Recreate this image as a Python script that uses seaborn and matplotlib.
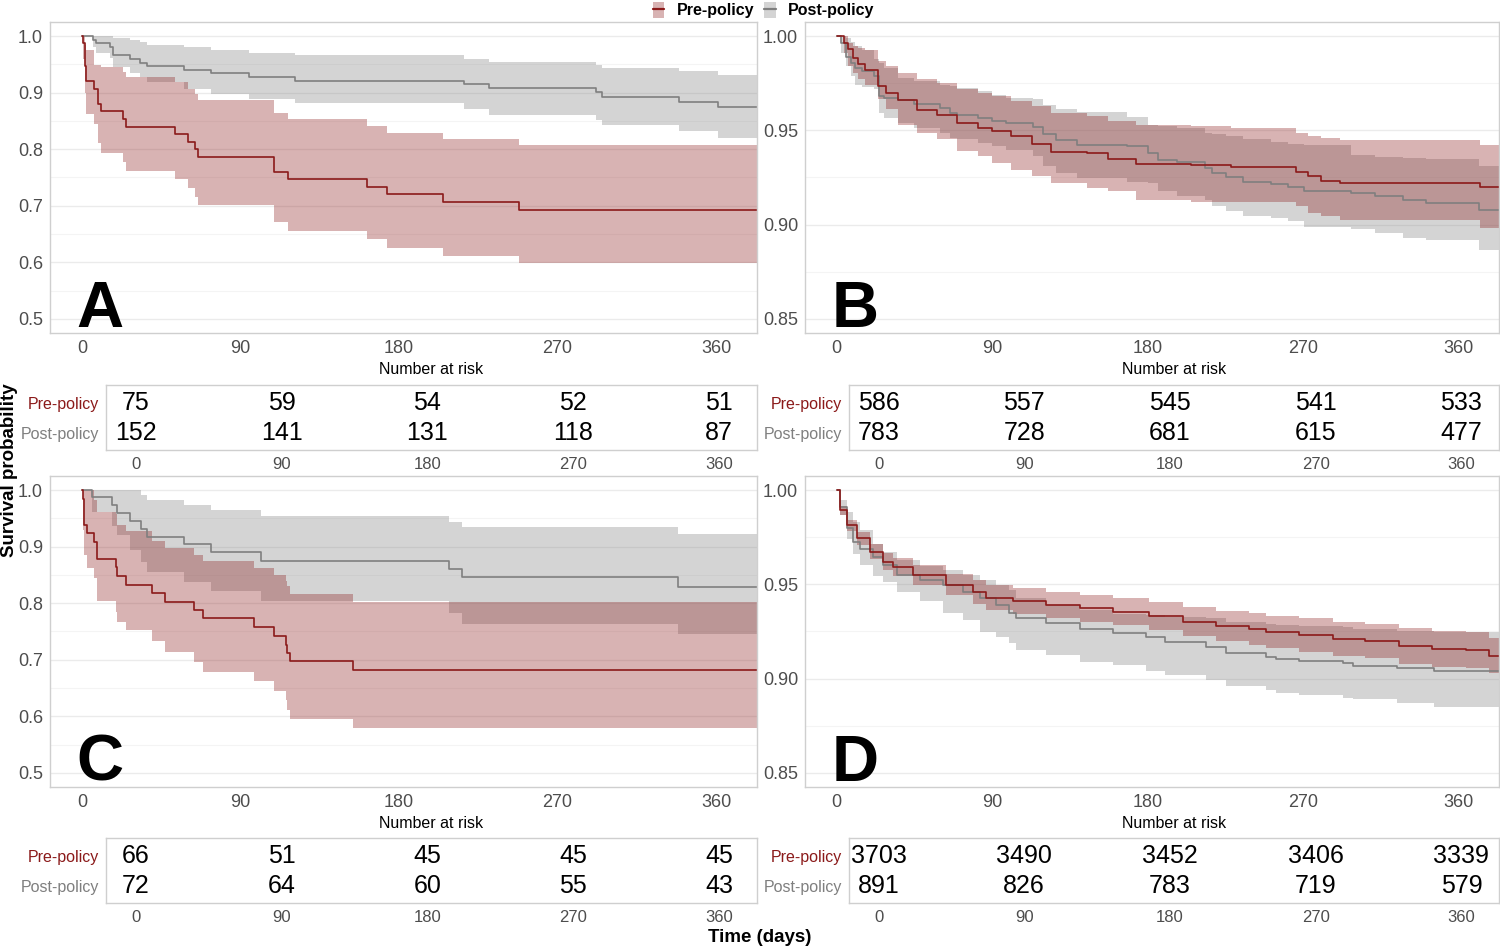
import numpy as np
import pandas as pd
import seaborn as sns
import matplotlib.pyplot as plt
from matplotlib.patches import Patch
from matplotlib.lines import Line2D
from matplotlib.legend_handler import HandlerTuple

sns.set_style("white")
plt.rcParams['font.family'] = ['Liberation Sans', 'DejaVu Sans']

# ------------------------------------------------------
# Kaplan-Meier estimates (days, survival, 95% CI)
# ------------------------------------------------------
# Panel A
A_pre_t  = [0, 0.5, 1.5, 2, 7, 9, 10.5, 23, 25, 53, 60, 64, 66, 109, 117, 162, 173, 205, 248]
A_pre_s  = [1.0, 0.987, 0.947, 0.92, 0.907, 0.88, 0.867, 0.853, 0.84, 0.827, 0.813, 0.80, 0.787, 0.76, 0.747, 0.733, 0.72, 0.707, 0.693]
A_pre_lo = [1.0, 0.96, 0.899, 0.862, 0.844, 0.811, 0.794, 0.778, 0.762, 0.747, 0.731, 0.716, 0.701, 0.672, 0.656, 0.642, 0.626, 0.612, 0.598]
A_pre_hi = [1.0, 1.0, 0.985, 0.975, 0.949, 0.949, 0.945, 0.937, 0.928, 0.919, 0.906, 0.898, 0.887, 0.864, 0.853, 0.841, 0.829, 0.818, 0.807]

A_post_t  = [0, 6, 7.7, 16, 17.4, 27, 33, 36.7, 58, 73, 95, 121, 217, 231, 292, 295, 339, 361]
A_post_s  = [1.0, 0.993, 0.987, 0.980, 0.967, 0.960, 0.953, 0.947, 0.940, 0.934, 0.928, 0.921, 0.915, 0.908, 0.901, 0.893, 0.884, 0.874]
A_post_lo = [1.0, 0.980, 0.971, 0.962, 0.945, 0.935, 0.927, 0.919, 0.907, 0.897, 0.888, 0.881, 0.871, 0.861, 0.852, 0.842, 0.832, 0.820]
A_post_hi = [1.0, 1.0, 1.0, 1.0, 0.997, 0.993, 0.989, 0.985, 0.981, 0.975, 0.971, 0.966, 0.960, 0.955, 0.949, 0.944, 0.938, 0.931]

# Panel B
B_pre_t  = [0, 4.1, 6.8, 9.6, 12.3, 16.4, 24, 28.7, 35.5, 46.4, 57.9, 69.6, 82, 90, 101, 113, 124, 145, 157, 173, 205, 228, 266, 273, 280, 291, 372]
B_pre_s  = [1.0, 0.9965, 0.993, 0.9885, 0.985, 0.982, 0.9735, 0.970, 0.966, 0.961, 0.958, 0.954, 0.951, 0.9495, 0.947, 0.943, 0.9386, 0.938, 0.935, 0.9322, 0.9317, 0.9305, 0.928, 0.9257, 0.923, 0.922, 0.920]
B_pre_lo = [1.0, 0.9912, 0.9841, 0.9805, 0.977, 0.9743, 0.9664, 0.9611, 0.9531, 0.9487, 0.9452, 0.939, 0.9363, 0.9328, 0.9292, 0.9257, 0.9222, 0.9195, 0.9177, 0.9133, 0.9119, 0.9119, 0.9098, 0.9062, 0.9045, 0.9027, 0.8983]
B_pre_hi = [1.0, 1.0, 0.9965, 0.9947, 0.9938, 0.9926, 0.9867, 0.9841, 0.9802, 0.977, 0.9752, 0.9722, 0.9699, 0.9682, 0.9655, 0.9628, 0.9593, 0.9575, 0.9549, 0.9526, 0.9522, 0.9514, 0.9487, 0.9469, 0.946, 0.9448, 0.9422]

B_post_t  = [0, 2.7, 5.5, 8.2, 10.9, 15, 21.9, 24.6, 27.3, 35.5, 45, 60, 65.6, 69.7, 82, 90, 98.3, 113.4, 119.6, 127, 139.3, 168, 180.3, 185.7, 196.7, 213, 217, 225.3, 235, 251.3, 260.9, 270.4, 297.7, 311.4, 327.8, 340.9, 371.5]
B_post_s  = [1.0, 0.9965, 0.989, 0.986, 0.983, 0.9814, 0.979, 0.968, 0.967, 0.966, 0.964, 0.962, 0.959, 0.958, 0.9567, 0.955, 0.9537, 0.952, 0.948, 0.945, 0.942, 0.9416, 0.938, 0.9345, 0.933, 0.930, 0.9275, 0.925, 0.9227, 0.9216, 0.920, 0.9177, 0.917, 0.915, 0.913, 0.9115, 0.9075]
B_post_lo = [1.0, 0.9912, 0.9841, 0.9788, 0.9743, 0.9731, 0.9717, 0.9593, 0.9567, 0.954, 0.9513, 0.9487, 0.946, 0.9452, 0.9434, 0.9416, 0.9398, 0.9363, 0.931, 0.9275, 0.9248, 0.9228, 0.9222, 0.9178, 0.9151, 0.9133, 0.9098, 0.9071, 0.9045, 0.9036, 0.9018, 0.8986, 0.8977, 0.8956, 0.893, 0.8917, 0.8868]
B_post_hi = [1.0, 1.0, 0.9991, 0.9968, 0.9947, 0.9926, 0.988, 0.9855, 0.9832, 0.9779, 0.9763, 0.9743, 0.9735, 0.9726, 0.9708, 0.969, 0.9673, 0.9664, 0.9637, 0.9614, 0.9597, 0.9572, 0.9531, 0.9522, 0.9514, 0.9487, 0.9482, 0.9469, 0.9452, 0.9437, 0.9429, 0.9422, 0.9372, 0.936, 0.9354, 0.9349, 0.931]

# Panel C
C_pre_t  = [0, 0.4, 1.1, 2.9, 6.7, 8.6, 19.0, 19.7, 25, 39.8, 46.8, 63.4, 68.8, 97.5, 108.9, 115.5, 116.4, 117.8, 153.7]
C_pre_s  = [1.0, 0.985, 0.939, 0.924, 0.909, 0.879, 0.864, 0.848, 0.833, 0.818, 0.803, 0.788, 0.773, 0.758, 0.742, 0.727, 0.712, 0.697, 0.682]
C_pre_lo = [1.0, 0.930, 0.885, 0.863, 0.844, 0.804, 0.785, 0.767, 0.752, 0.733, 0.713, 0.696, 0.678, 0.662, 0.645, 0.629, 0.612, 0.595, 0.579]
C_pre_hi = [1.0, 1.0, 1.0, 1.0, 0.982, 0.961, 0.958, 0.938, 0.927, 0.910, 0.897, 0.886, 0.875, 0.862, 0.850, 0.840, 0.830, 0.817, 0.803]

C_post_t  = [0, 5.5, 16.9, 19.7, 26.9, 33.2, 37, 57.8, 72.9, 101.7, 208.6, 215.6, 338.3]
C_post_s  = [1.0, 0.987, 0.973, 0.960, 0.946, 0.932, 0.918, 0.904, 0.891, 0.875, 0.860, 0.846, 0.829]
C_post_lo = [1.0, 0.961, 0.936, 0.921, 0.894, 0.873, 0.856, 0.838, 0.821, 0.804, 0.783, 0.764, 0.746]
C_post_hi = [1.0, 1.0, 1.0, 1.0, 1.0, 0.991, 0.982, 0.973, 0.965, 0.955, 0.944, 0.934, 0.922]

# Panel D
D_pre_t  = [0, 2, 5.8, 11.6, 19.3, 27, 32.8, 44.3, 63.6, 79, 86.7, 102, 121.4, 140.6, 159.8, 181, 200.3, 219.6, 238.8, 248.5, 267.7, 287, 306, 325.5, 344.7, 364, 377.5]
D_pre_s  = [1.0, 0.9894, 0.9814, 0.9744, 0.9673, 0.962, 0.959, 0.955, 0.9497, 0.946, 0.943, 0.9412, 0.939, 0.9373, 0.9355, 0.9332, 0.9302, 0.9279, 0.9262, 0.9246, 0.9231, 0.921, 0.920, 0.9173, 0.9157, 0.9152, 0.9122]
D_pre_lo = [1.0, 0.987, 0.9784, 0.971, 0.9632, 0.9575, 0.9542, 0.9498, 0.9441, 0.9397, 0.9365, 0.9343, 0.932, 0.9303, 0.9284, 0.9257, 0.9224, 0.9198, 0.9177, 0.916, 0.9142, 0.912, 0.9108, 0.908, 0.9063, 0.9058, 0.9028]
D_pre_hi = [1.0, 0.9918, 0.9844, 0.9778, 0.9714, 0.9665, 0.9638, 0.9602, 0.9553, 0.9523, 0.9495, 0.9481, 0.946, 0.9443, 0.9426, 0.9407, 0.938, 0.936, 0.9347, 0.9332, 0.932, 0.930, 0.9292, 0.9266, 0.9251, 0.9246, 0.9216]

D_post_t  = [0, 1.9, 5.8, 9.6, 13.5, 21.2, 27, 34.7, 48.2, 61.7, 73.2, 82.8, 92.5, 100, 104, 121.4, 140.6, 159.8, 179, 190, 213.8, 225.4, 248.5, 254.2, 267.7, 292.8, 298.5, 324.5, 345.7]
D_post_s  = [1.0, 0.9912, 0.9797, 0.9726, 0.969, 0.9647, 0.9602, 0.955, 0.9523, 0.9497, 0.946, 0.9426, 0.939, 0.9346, 0.932, 0.9293, 0.9262, 0.9243, 0.9222, 0.9196, 0.9169, 0.9134, 0.9116, 0.9103, 0.9095, 0.9081, 0.9069, 0.9055, 0.9043]
D_post_lo = [1.0, 0.987, 0.974, 0.966, 0.9605, 0.9545, 0.951, 0.9461, 0.941, 0.935, 0.9311, 0.9249, 0.922, 0.919, 0.9152, 0.9125, 0.909, 0.9072, 0.904, 0.9019, 0.8993, 0.8961, 0.894, 0.8926, 0.8913, 0.8895, 0.889, 0.8869, 0.8852]
D_post_hi = [1.0, 0.995, 0.9885, 0.983, 0.979, 0.9715, 0.9673, 0.9629, 0.960, 0.9576, 0.955, 0.9523, 0.9496, 0.947, 0.9426, 0.939, 0.9364, 0.9345, 0.9335, 0.9329, 0.932, 0.930, 0.929, 0.9285, 0.928, 0.9272, 0.9265, 0.9255, 0.9249]

# Number at risk
risk_times = [0, 90, 180, 270, 360]
A_risk_pre, A_risk_post = [75, 59, 54, 52, 51], [152, 141, 131, 118, 87]
B_risk_pre, B_risk_post = [586, 557, 545, 541, 533], [783, 728, 681, 615, 477]
C_risk_pre, C_risk_post = [66, 51, 45, 45, 45], [72, 64, 60, 55, 43]
D_risk_pre, D_risk_post = [3703, 3490, 3452, 3406, 3339], [891, 826, 783, 719, 579]

groups = ["Pre-policy", "Post-policy"]
x_ticks = [0, 90, 180, 270, 360]

# ------------------------------------------------------
# Style
# ------------------------------------------------------
RED = "#8B1A1A"
GREY = "#7F7F7F"
ALPHA = 0.33
TICK_COL = "#4D4D4D"
BORDER = "#CFCFCF"
XLIM = (-18.25, 383.25)
T_END = 390  # curves carried to the panel edge

W, H = 1500, 946
fig = plt.figure(figsize=(15, 9.46), dpi=100)


def add_box(l, t, r, b):
    return fig.add_axes([l / W, 1 - b / H, (r - l) / W, (b - t) / H])


def style_frame(ax):
    for sp in ax.spines.values():
        sp.set_color(BORDER)
        sp.set_linewidth(1.0)
    ax.tick_params(axis="both", which="major", length=3.5, width=0.8,
                   color="#333333", pad=1.5, labelcolor=TICK_COL)
    ax.tick_params(axis="both", which="minor", length=0)


def km_curve(ax, t, s, lo, hi, color):
    tt = list(t) + [T_END]
    df = pd.DataFrame({"time": tt, "surv": list(s) + [s[-1]],
                       "lo": list(lo) + [lo[-1]], "hi": list(hi) + [hi[-1]]})
    ax.fill_between(df["time"], df["lo"], df["hi"], step="post",
                    color=color, alpha=ALPHA, lw=0)
    return df


def km_panel(box, curves, yticks, ylabels, ylim, letter):
    ax = add_box(*box)
    frames = [km_curve(ax, *c) for c in curves]
    for df, c in zip(frames, curves):
        sns.lineplot(data=df, x="time", y="surv", ax=ax, color=c[-1],
                     drawstyle="steps-post", estimator=None, sort=False,
                     lw=1.2)
    ax.set_xlim(*XLIM)
    ax.set_ylim(*ylim)
    ax.set_xticks(x_ticks)
    ax.set_xticklabels([str(v) for v in x_ticks], fontsize=13)
    ax.set_yticks(yticks)
    ax.set_yticklabels(ylabels, fontsize=13)
    minor = [(a + b) / 2 for a, b in zip(yticks[:-1], yticks[1:])]
    ax.set_yticks(minor, minor=True)
    ax.grid(axis="y", which="major", color="#EBEBEB", lw=1.0)
    ax.grid(axis="y", which="minor", color="#F4F4F4", lw=0.8)
    ax.grid(axis="x", visible=False)
    ax.set_axisbelow(True)
    ax.set_xlabel("")
    ax.set_ylabel("")
    style_frame(ax)
    ax.text(0.038, 0.02, letter, transform=ax.transAxes, ha="left",
            va="baseline", fontsize=47, fontweight="bold", color="black")
    return ax


def risk_table(box, pre, post):
    ax = add_box(*box)
    ax.set_xlim(*XLIM)
    ax.set_ylim(-0.57, 1.6)
    for x, n in zip(risk_times, pre):
        ax.text(x, 1, str(n), ha="center", va="center", fontsize=18,
                color="black")
    for x, n in zip(risk_times, post):
        ax.text(x, 0, str(n), ha="center", va="center", fontsize=18,
                color="black")
    ax.set_xticks(x_ticks)
    ax.set_xticklabels([str(v) for v in x_ticks], fontsize=12)
    ax.set_yticks([1, 0])
    ax.set_yticklabels(groups, fontsize=11.5)
    ax.grid(False)
    style_frame(ax)
    ax.get_yticklabels()[0].set_color(RED)
    ax.get_yticklabels()[1].set_color(GREY)
    cx = (box[0] + box[2]) / 2
    fig.text(cx / W, 1 - (box[1] - 15) / H, "Number at risk", ha="center",
             va="center", fontsize=11.5, color="black")
    return ax


ticks_1 = [0.5, 0.6, 0.7, 0.8, 0.9, 1.0]
labels_1 = ["0.5", "0.6", "0.7", "0.8", "0.9", "1.0"]
ticks_2 = [0.85, 0.90, 0.95, 1.00]
labels_2 = ["0.85", "0.90", "0.95", "1.00"]
ylim_1 = (0.475, 1.025)
ylim_2 = (0.8425, 1.0075)

km_panel((50, 22, 757, 333),
         [(A_post_t, A_post_s, A_post_lo, A_post_hi, GREY),
          (A_pre_t, A_pre_s, A_pre_lo, A_pre_hi, RED)],
         ticks_1, labels_1, ylim_1, "A")
km_panel((805, 22, 1499, 333),
         [(B_post_t, B_post_s, B_post_lo, B_post_hi, GREY),
          (B_pre_t, B_pre_s, B_pre_lo, B_pre_hi, RED)],
         ticks_2, labels_2, ylim_2, "B")
km_panel((50, 476, 757, 787),
         [(C_post_t, C_post_s, C_post_lo, C_post_hi, GREY),
          (C_pre_t, C_pre_s, C_pre_lo, C_pre_hi, RED)],
         ticks_1, labels_1, ylim_1, "C")
km_panel((805, 476, 1499, 787),
         [(D_post_t, D_post_s, D_post_lo, D_post_hi, GREY),
          (D_pre_t, D_pre_s, D_pre_lo, D_pre_hi, RED)],
         ticks_2, labels_2, ylim_2, "D")

risk_table((106, 385, 757, 450), A_risk_pre, A_risk_post)
risk_table((849, 385, 1499, 450), B_risk_pre, B_risk_post)
risk_table((106, 838, 757, 903), C_risk_pre, C_risk_post)
risk_table((849, 838, 1499, 903), D_risk_pre, D_risk_post)

# shared labels
fig.text(10 / W, 1 - 470 / H, "Survival probability", rotation=90,
         ha="center", va="center", fontsize=13.5, fontweight="bold",
         color="black")
fig.text(760 / W, 1 - 937 / H, "Time (days)", ha="center", va="center",
         fontsize=13.5, fontweight="bold", color="black")

# legend
handles = [(Patch(facecolor=RED, alpha=ALPHA, lw=0), Line2D([], [], color=RED, lw=1.6)),
           (Patch(facecolor=GREY, alpha=ALPHA, lw=0), Line2D([], [], color=GREY, lw=1.6))]
leg = fig.legend(handles, groups, loc="upper center",
                 bbox_to_anchor=(764 / W, 1.006), ncol=2, frameon=False,
                 handler_map={tuple: HandlerTuple(ndivide=1)},
                 handlelength=0.7, handleheight=1.1, handletextpad=0.8,
                 columnspacing=0.6, borderaxespad=0.1,
                 prop={"size": 11.5, "weight": "bold"})
for txt in leg.get_texts():
    txt.set_color("black")

fig.savefig("out.png", dpi=100)
